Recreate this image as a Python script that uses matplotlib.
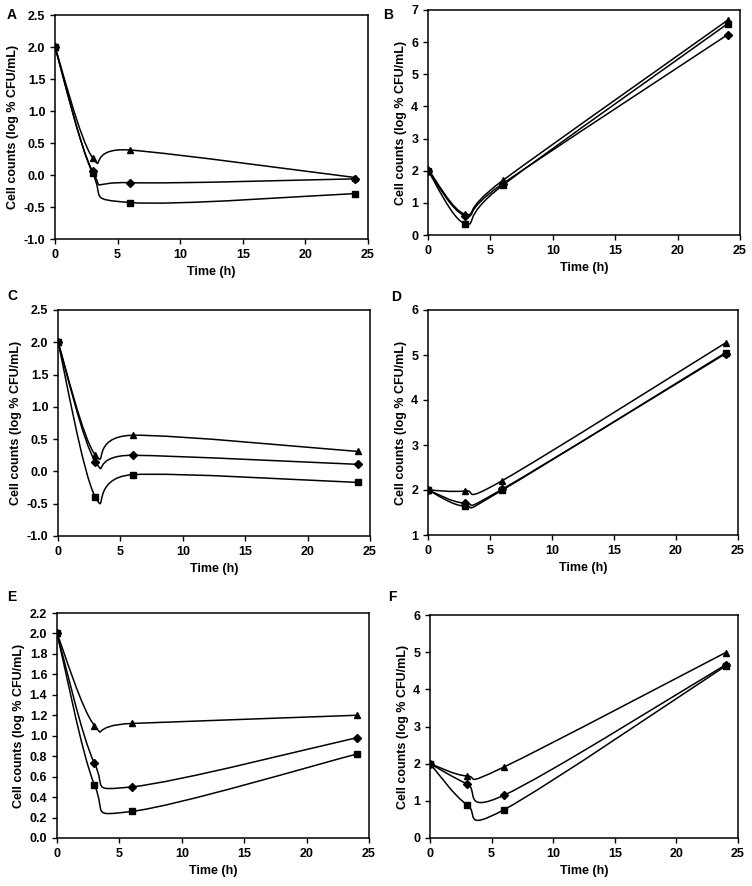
import numpy as np
import matplotlib
matplotlib.use('Agg')
import matplotlib.pyplot as plt
from matplotlib.path import Path
from matplotlib.patches import PathPatch
from matplotlib.ticker import FormatStrFormatter

plt.rcParams['font.family'] = ['Liberation Sans', 'DejaVu Sans']
plt.rcParams['font.weight'] = 'bold'

# tiempos de muestreo (h)
time_h = [0, 3, 6, 24]

# valores: triangulo, rombo, cuadrado
A_tri = [2.0, 0.27, 0.39, -0.04]
A_dia = [2.0, 0.06, -0.12, -0.06]
A_sq = [2.0, 0.03, -0.43, -0.29]

B_tri = [2.05, 0.65, 1.70, 6.68]
B_dia = [2.0, 0.60, 1.60, 6.23]
B_sq = [2.0, 0.35, 1.55, 6.57]

C_tri = [2.0, 0.25, 0.56, 0.31]
C_dia = [2.0, 0.15, 0.25, 0.11]
C_sq = [2.0, -0.40, -0.05, -0.17]

D_tri = [2.0, 1.98, 2.21, 5.27]
D_dia = [2.0, 1.71, 2.02, 5.03]
D_sq = [2.0, 1.64, 2.00, 5.05]

E_tri = [2.0, 1.10, 1.12, 1.20]
E_dia = [2.0, 0.73, 0.50, 0.98]
E_sq = [2.0, 0.52, 0.26, 0.82]

F_tri = [2.0, 1.67, 1.91, 4.99]
F_dia = [2.0, 1.46, 1.15, 4.66]
F_sq = [2.0, 0.90, 0.76, 4.63]

paneles = [
    ('A', A_tri, A_dia, A_sq, (-1.0, 2.5), 0.5, '%.1f'),
    ('B', B_tri, B_dia, B_sq, (0, 7), 1, '%d'),
    ('C', C_tri, C_dia, C_sq, (-1.0, 2.5), 0.5, '%.1f'),
    ('D', D_tri, D_dia, D_sq, (1, 6), 1, '%d'),
    ('E', E_tri, E_dia, E_sq, (0.0, 2.2), 0.2, '%.1f'),
    ('F', F_tri, F_dia, F_sq, (0, 6), 1, '%d'),
]

# posiciones de los ejes en pixeles: izq, der, arriba, abajo
cajas = {
    'A': (55, 368, 15, 239),
    'B': (428, 740, 10, 235),
    'C': (58, 370, 310, 536),
    'D': (428, 738, 310, 535),
    'E': (57, 369, 613, 838),
    'F': (430, 738, 615, 838),
}
letras = {'A': (7, 15), 'B': (383, 15), 'C': (7, 296), 'D': (391, 297),
          'E': (7, 597), 'F': (388, 597)}

W, H = 752, 886


def curva_suave(x, y):
    # linea suavizada tipo Excel (Bezier cubica, Catmull-Rom)
    p = np.column_stack([x, y]).astype(float)
    n = len(p)
    verts = [p[0]]
    codes = [Path.MOVETO]
    for i in range(n - 1):
        p0 = p[i - 1] if i > 0 else p[i]
        p1 = p[i]
        p2 = p[i + 1]
        p3 = p[i + 2] if i + 2 < n else p[i + 1]
        c1 = p1 + (p2 - p0) / 6.0
        c2 = p2 - (p3 - p1) / 6.0
        verts += [c1, c2, p2]
        codes += [Path.CURVE4] * 3
    return Path(verts, codes)


fig = plt.figure(figsize=(W / 100, H / 100), dpi=100)

for letra, tri, dia, sq, ylim, paso, fmt in paneles:
    l, r, t, b = cajas[letra]
    ax = fig.add_axes([l / W, 1 - b / H, (r - l) / W, (b - t) / H])
    for serie, marca, ms in [(tri, '^', 5), (dia, 'D', 4), (sq, 's', 4.5)]:
        ax.add_patch(PathPatch(curva_suave(time_h, serie), fill=False,
                               edgecolor='black', lw=1.1))
        ax.plot(time_h, serie, ls='none', marker=marca, ms=ms, color='black')
    ax.set_xlim(0, 25)
    ax.set_ylim(*ylim)
    ax.set_xticks([0, 5, 10, 15, 20, 25])
    ax.set_yticks(np.arange(ylim[0], ylim[1] + paso / 2, paso))
    ax.yaxis.set_major_formatter(FormatStrFormatter(fmt))
    ax.tick_params(direction='out', length=3.5, width=1, labelsize=9)
    for s in ax.spines.values():
        s.set_linewidth(1.1)
    ax.set_xlabel('Time (h)', fontsize=9, fontweight='bold', labelpad=4)
    ax.set_ylabel('Cell counts (log % CFU/mL)', fontsize=9, fontweight='bold',
                  labelpad=3)
    lx, ly = letras[letra]
    fig.text(lx / W, 1 - ly / H, letra, fontsize=10, fontweight='bold',
             va='center', ha='left')

fig.savefig('out.png', dpi=100, facecolor='white')
